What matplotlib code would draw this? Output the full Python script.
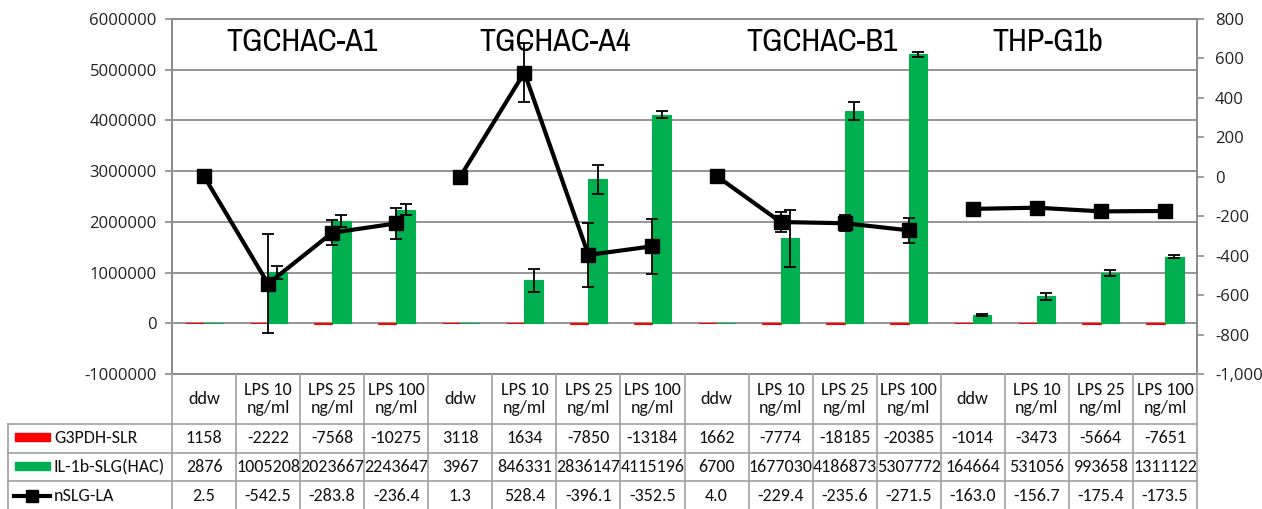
import numpy as np
import matplotlib
matplotlib.use("Agg")
import matplotlib.pyplot as plt
from matplotlib.ticker import FuncFormatter, MultipleLocator
from matplotlib.transforms import blended_transform_factory
from matplotlib.lines import Line2D
from matplotlib.patches import Rectangle

# ---------------- data ----------------
groups = ["TGCHAC-A1", "TGCHAC-A4", "TGCHAC-B1", "THP-G1b"]
conditions = ["ddw", "LPS 10\nng/ml", "LPS 25\nng/ml", "LPS 100\nng/ml"]
categories = conditions * 4
g3pdh = [1158, -2222, -7568, -10275, 3118, 1634, -7850, -13184,
         1662, -7774, -18185, -20385, -1014, -3473, -5664, -7651]
il1b = [2876, 1005208, 2023667, 2243647, 3967, 846331, 2836147, 4115196,
        6700, 1677030, 4186873, 5307772, 164664, 531056, 993658, 1311122]
nslg = [2.5, -542.5, -283.8, -236.4, 1.3, 528.4, -396.1, -352.5,
        4.0, -229.4, -235.6, -271.5, -163.0, -156.7, -175.4, -173.5]
il1b_err = [0, 130000, 120000, 100000, 0, 220000, 280000, 70000,
            0, 560000, 175000, 50000, 15000, 70000, 65000, 30000]
nslg_err = [0, 250, 63, 78, 0, 150, 163, 140,
            0, 52, 40, 65, 0, 0, 0, 0]
series_names = ["G3PDH-SLR", "IL-1b-SLG(HAC)", "nSLG-LA"]
table_rows = [[str(v) for v in g3pdh], [str(v) for v in il1b], [f"{v:.1f}" for v in nslg]]

# ---------------- style ----------------
RED = "#FF0000"
GREEN = "#00B050"
GRID = "#8c8c8c"
TBL = "#a0a0a0"
W, H = 1262, 509
L, R, T, B = 172, 1197, 19, 374
tick_font = ["Open Sans", "DejaVu Sans"]
tbl_font = ["Carlito", "Lato", "DejaVu Sans"]
title_font = ["Archivo Narrow", "Liberation Sans", "DejaVu Sans"]

fig = plt.figure(figsize=(W / 100, H / 100), dpi=100)
ax = fig.add_axes([L / W, 1 - B / H, (R - L) / W, (B - T) / H])
ax2 = ax.twinx()

n = len(categories)
x = np.arange(n)
bw = 0.29

ax.set_xlim(-0.5, n - 0.5)
ax.set_ylim(-1_000_000, 6_000_000)
ax2.set_ylim(-1000, 800)
ax.yaxis.set_major_locator(MultipleLocator(1_000_000))
ax2.yaxis.set_major_locator(MultipleLocator(200))
ax.yaxis.set_major_formatter(FuncFormatter(lambda v, p: f"{v:.0f}"))
ax2.yaxis.set_major_formatter(FuncFormatter(lambda v, p: f"{v:,.0f}"))

ax.set_axisbelow(True)
ax.yaxis.grid(True, color=GRID, lw=1.3)
ax.set_xticks([])
for a in (ax, ax2):
    for s in a.spines.values():
        s.set_color(GRID)
        s.set_linewidth(1.3)
ax.tick_params(axis="y", length=5, width=1.2, color=GRID, pad=6, labelsize=12)
ax2.tick_params(axis="y", length=5, width=1.2, color=GRID, pad=8, labelsize=12)
for lab in ax.get_yticklabels() + ax2.get_yticklabels():
    lab.set_fontfamily(tick_font)
    lab.set_color("#222222")

# bars
ax.bar(x - bw / 2, g3pdh, bw, color=RED, edgecolor=RED, lw=0.8, zorder=2)
ax.bar(x + bw / 2, il1b, bw, color=GREEN, edgecolor=GREEN, lw=0.8, zorder=2)
err = np.array(il1b_err, dtype=float)
m = err > 0
ax.errorbar((x + bw / 2)[m], np.array(il1b)[m], yerr=err[m], fmt="none",
            ecolor="black", elinewidth=1.3, capsize=4, capthick=1.3, zorder=3)

# line (segments broken between groups)
nslg_a = np.array(nslg)
nerr = np.array(nslg_err, dtype=float)
for g in range(len(groups)):
    idx = slice(g * 4, g * 4 + 4)
    ax2.plot(x[idx], nslg_a[idx], color="black", lw=3, marker="s",
             markersize=10, zorder=4)
mm = nerr > 0
ax2.errorbar(x[mm], nslg_a[mm], yerr=nerr[mm], fmt="none", ecolor="black",
             elinewidth=1.3, capsize=4, capthick=1.3, zorder=5)

# group titles
title_px = [302, 555, 821, 1047]
for g, name in enumerate(groups):
    xd = -0.5 + (title_px[g] - L) / 64
    ax.text(xd, 5_550_000, name, ha="center", va="center", fontsize=23,
            family=title_font, color="black", zorder=6)

# ---------------- data table ----------------
trans = blended_transform_factory(ax.transData, fig.transFigure)
def fy(py):
    return 1 - py / H
def px2d(px):
    return -0.5 + (px - L) / 64

row_edges = [374, 424, 453, 481, 512]
left_edge = px2d(8)
for i in range(n + 1):
    fig.add_artist(Line2D([i - 0.5, i - 0.5], [fy(374), fy(512)], transform=trans,
                          color=TBL, lw=1.2, clip_on=False))
fig.add_artist(Line2D([left_edge, left_edge], [fy(424), fy(512)], transform=trans,
                      color=TBL, lw=1.2, clip_on=False))
for py in row_edges[1:4]:
    fig.add_artist(Line2D([left_edge, n - 0.5], [fy(py), fy(py)], transform=trans,
                          color=TBL, lw=1.2, clip_on=False))

for i, c in enumerate(categories):
    fig.text(i, fy(399), c, transform=trans, ha="center", va="center",
             fontsize=13, family=tbl_font, linespacing=1.15, color="#111111")
row_centers = [438, 467, 496]
for r, vals in enumerate(table_rows):
    for i, v in enumerate(vals):
        fig.text(i, fy(row_centers[r]), v, transform=trans, ha="center",
                 va="center", fontsize=13, family=tbl_font, color="#111111")
    fig.text(px2d(54), fy(row_centers[r]), series_names[r], transform=trans,
             ha="left", va="center", fontsize=13, family=tbl_font, color="#111111")

fig.add_artist(Rectangle((px2d(15), fy(441)), px2d(50) - px2d(15), fy(433) - fy(441),
                         transform=trans, color=RED, clip_on=False))
fig.add_artist(Rectangle((px2d(15), fy(470)), px2d(50) - px2d(15), fy(462) - fy(470),
                         transform=trans, color=GREEN, clip_on=False))
fig.add_artist(Line2D([px2d(14), px2d(50)], [fy(496), fy(496)], transform=trans,
                      color="black", lw=3, clip_on=False))
fig.add_artist(Line2D([px2d(32)], [fy(496)], transform=trans, color="black",
                      marker="s", markersize=8, clip_on=False))

fig.savefig("out.png", dpi=100)
